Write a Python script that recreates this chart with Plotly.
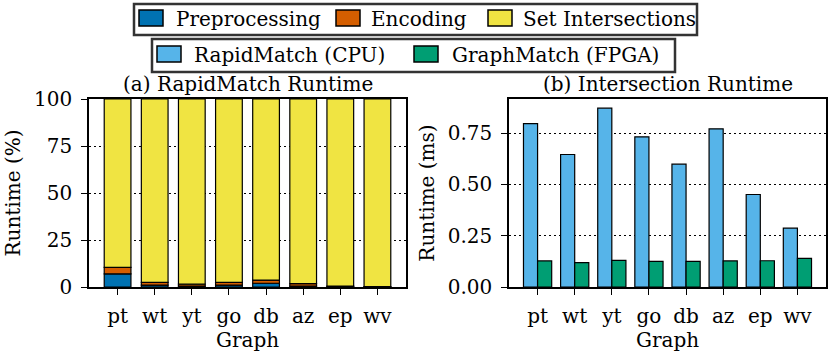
import numpy as np
import plotly.graph_objects as go

graphs = ["pt", "wt", "yt", "go", "db", "az", "ep", "wv"]
preprocessing = [7.0, 1.0, 0.5, 1.0, 2.0, 0.5, 0.2, 0.1]
encoding = [3.4, 1.5, 1.0, 1.5, 1.7, 1.3, 0.3, 0.1]
set_intersections = [100 - p - e for p, e in zip(preprocessing, encoding)]

rapidmatch_cpu = [0.796, 0.646, 0.872, 0.732, 0.599, 0.771, 0.451, 0.287]
graphmatch_fpga = [0.127, 0.119, 0.130, 0.125, 0.125, 0.127, 0.128, 0.140]

legend1_labels = ["Preprocessing", "Encoding", "Set Intersections"]
legend2_labels = ["RapidMatch (CPU)", "GraphMatch (FPGA)"]

C_PRE = "#0072B2"
C_ENC = "#D55E00"
C_SET = "#F0E442"
C_CPU = "#56B4E9"
C_FPGA = "#009E73"

FONT = "DejaVu Serif"
FS = 20
W, H = 831, 359

fig = go.Figure()

base1 = np.zeros(len(graphs))
for name, vals, col in zip(legend1_labels,
                           [preprocessing, encoding, set_intersections],
                           [C_PRE, C_ENC, C_SET]):
    fig.add_trace(go.Bar(x=graphs, y=vals, base=base1.tolist(), name=name,
                         marker=dict(color=col, line=dict(color="black", width=1.2)),
                         width=0.72, offset=-0.36, xaxis="x", yaxis="y",
                         showlegend=False))
    base1 = base1 + np.array(vals)

fig.add_trace(go.Bar(x=graphs, y=rapidmatch_cpu, name=legend2_labels[0],
                     marker=dict(color=C_CPU, line=dict(color="black", width=1.2)),
                     width=0.38, offset=-0.38, xaxis="x2", yaxis="y2", showlegend=False))
fig.add_trace(go.Bar(x=graphs, y=graphmatch_fpga, name=legend2_labels[1],
                     marker=dict(color=C_FPGA, line=dict(color="black", width=1.2)),
                     width=0.38, offset=0.0, xaxis="x2", yaxis="y2", showlegend=False))

axis_common = dict(showline=True, linecolor="black", linewidth=1.5, mirror=True,
                   ticks="outside", ticklen=6, tickwidth=1.2, tickcolor="black",
                   tickfont=dict(family=FONT, size=FS, color="black"), zeroline=False)
xax = dict(type="category", range=[-0.77, 7.77], showgrid=False, ticklabelstandoff=4,
           title=dict(text="Graph", font=dict(family=FONT, size=FS), standoff=2),
           **axis_common)
yax = dict(showgrid=True, gridcolor="black", gridwidth=1.3, griddash="2px,3px",
           ticklabelstandoff=5, **axis_common)

# ---- hand-drawn legends (boxes, swatches, labels) in paper coordinates ----
def px_x(v):
    return v / W

def px_y(v):
    return 1 - v / H

shapes = []
annotations = []

def legend_box(x0, x1, y0, y1):
    shapes.append(dict(type="rect", xref="paper", yref="paper",
                       x0=px_x(x0), x1=px_x(x1), y0=px_y(y1), y1=px_y(y0),
                       line=dict(color="#333333", width=2.5), fillcolor="white",
                       layer="above"))

def legend_item(sx, sy0, sy1, tx, ty, color, label):
    shapes.append(dict(type="rect", xref="paper", yref="paper",
                       x0=px_x(sx), x1=px_x(sx + 24), y0=px_y(sy1), y1=px_y(sy0),
                       line=dict(color="black", width=1.5), fillcolor=color,
                       layer="above"))
    annotations.append(dict(text=label, x=px_x(tx), y=px_y(ty), xref="paper", yref="paper",
                            xanchor="left", yanchor="middle", showarrow=False,
                            font=dict(family=FONT, size=FS, color="black")))

legend_box(134, 697, 4, 35)
for sx, tx, col, lab in zip([139, 336, 488], [174, 369, 521],
                            [C_PRE, C_ENC, C_SET], legend1_labels):
    legend_item(sx, 10, 26, tx, 19, col, lab)

legend_box(152, 675, 39, 72)
for sx, tx, col, lab in zip([157, 414], [192, 450], [C_CPU, C_FPGA], legend2_labels):
    legend_item(sx, 46, 62, tx, 55, col, lab)

annotations += [
    dict(text="(a) RapidMatch Runtime", x=(89 + 406) / 2 / W, xref="paper",
         xanchor="center", y=260 / H, yref="paper", yanchor="bottom",
         showarrow=False, font=dict(family=FONT, size=FS), yshift=1),
    dict(text="(b) Intersection Runtime", x=(509 + 826) / 2 / W, xref="paper",
         xanchor="center", y=260 / H, yref="paper", yanchor="bottom",
         showarrow=False, font=dict(family=FONT, size=FS), yshift=1),
]

ydom = [72 / H, 260 / H]
fig.update_layout(
    width=W, height=H,
    margin=dict(l=0, r=0, t=0, b=0, autoexpand=False),
    paper_bgcolor="white", plot_bgcolor="white",
    barmode="overlay",
    showlegend=False,
    font=dict(family=FONT, size=FS, color="black"),
    xaxis=dict(domain=[89 / W, 406 / W], anchor="y", **xax),
    yaxis=dict(domain=ydom, range=[0, 100], tickvals=[0, 25, 50, 75, 100], anchor="x",
               title=dict(text="Runtime (%)", font=dict(family=FONT, size=FS), standoff=8),
               **yax),
    xaxis2=dict(domain=[509 / W, 826 / W], anchor="y2", **xax),
    yaxis2=dict(domain=ydom, range=[0, 0.9165], tickvals=[0, 0.25, 0.5, 0.75],
                ticktext=["0.00", "0.25", "0.50", "0.75"], anchor="x2",
                title=dict(text="Runtime (ms)", font=dict(family=FONT, size=FS), standoff=8),
                **yax),
    shapes=shapes,
    annotations=annotations,
)

fig.write_html("out.html", config={"displayModeBar": False},
               post_script="document.body.style.margin='0';document.body.style.padding='0';")
